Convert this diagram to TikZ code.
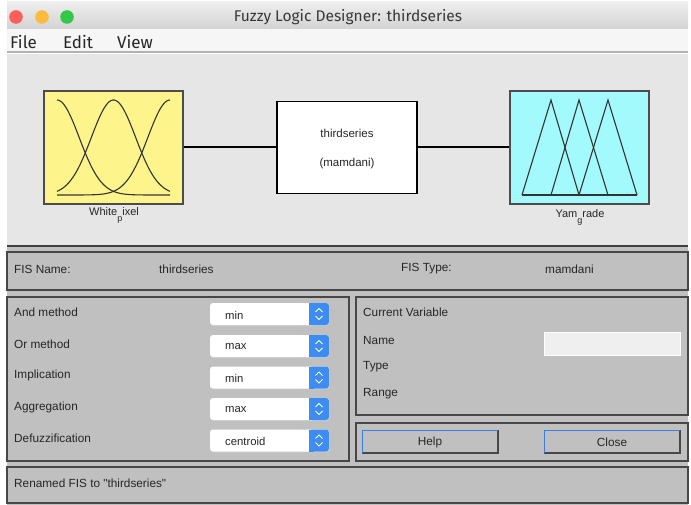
\documentclass[tikz,border=0pt]{standalone}
\usepackage{fontspec}
\setmainfont{Liberation Sans}[Ligatures=TeXOff]
\newfontfamily\uifont{Fira Sans}
\definecolor{tbtop}{HTML}{EEEEEE}
\definecolor{tbbot}{HTML}{D3D3D3}
\definecolor{menubg}{HTML}{F6F6F6}
\definecolor{diagbg}{HTML}{E6E6E6}
\definecolor{panelgray}{HTML}{C0C0C0}
\definecolor{inyellow}{HTML}{FEF48C}
\definecolor{outcyan}{HTML}{A2FAFC}
\definecolor{popblue}{HTML}{3C8CF2}
\definecolor{btnblue}{HTML}{3A7FE0}
\definecolor{fieldgray}{HTML}{EFEFEF}
\definecolor{lred}{HTML}{FC605C}
\definecolor{lyellow}{HTML}{FDBC40}
\definecolor{lgreen}{HTML}{34C84A}
\tikzset{
  panel/.style={draw=black!72, line width=1.2pt, fill=panelgray},
  ptext/.style={anchor=west, inner sep=0pt, font=\fontsize{11.8}{14}\selectfont, text=black!85},
  mfbox/.style={draw=black!70, line width=1.2pt},
  curve/.style={line width=1.1pt, black!80},
  wire/.style={line width=2pt, black},
  menutext/.style={anchor=west, inner sep=0pt, font=\uifont\fontsize{17}{20}\selectfont, text=black!85},
}
\begin{document}
\begin{tikzpicture}[x=1pt,y=-1pt]
\useasboundingbox (0,0) rectangle (691,505);
\fill[white] (0,0) rectangle (691,505);
% title bar
\shade[top color=tbtop, bottom color=tbbot] (7,2) rectangle (688,29);
\fill[lred] (16,17) circle (6.8);
\fill[lyellow] (42,17) circle (6.8);
\fill[lgreen] (67,17) circle (6.8);
\node[inner sep=0pt, font=\uifont\fontsize{15.5}{18}\selectfont, text=black!78] (title) at (348,17) {Fuzzy Logic Designer: thirdseries};
% menu bar
\fill[menubg] (7,29) rectangle (688,51);
\draw[black!30, line width=2pt] (7,52) -- (688,52);
\node[menutext] (mfile) at (10,42) {File};
\node[menutext] (medit) at (63,42) {Edit};
\node[menutext] (mview) at (117,42) {View};
% diagram area
\fill[diagbg] (7,54) rectangle (688,245);
\fill[panelgray] (7,247) rectangle (688,505);
\draw[black!75, line width=1.5pt] (7,246) -- (688,246);
% input box
\node[mfbox, fill=inyellow, minimum width=139pt, minimum height=113pt, inner sep=0pt] (in) at (113.5,147.5) {};
\draw[curve] plot[domain=57:170, samples=70, smooth] (\x, {195-95*exp(-((\x-57)^2)/980)});
\draw[curve] plot[domain=57:170, samples=70, smooth] (\x, {195-95*exp(-((\x-113.5)^2)/980)});
\draw[curve] plot[domain=57:170, samples=70, smooth] (\x, {195-95*exp(-((\x-170)^2)/980)});
\node[inner sep=0pt, font=\fontsize{11}{13}\selectfont, text=black!85] (inlbl) at (114,215) {White\raisebox{-6pt}{\fontsize{9}{10}\selectfont p}ixel};
% FIS box
\node[draw=black, line width=1.8pt, fill=white, minimum width=140pt, minimum height=92pt, inner sep=0pt] (fis) at (347,147.5) {};
\node[inner sep=0pt, font=\fontsize{11.5}{13}\selectfont, text=black!85] (fisname) at (347,133) {thirdseries};
\node[inner sep=0pt, font=\fontsize{11.5}{13}\selectfont, text=black!85] (fistype) at (347,164) {(mamdani)};
% output box
\node[mfbox, fill=outcyan, minimum width=139pt, minimum height=113pt, inner sep=0pt] (out) at (579.5,147.5) {};
\draw[curve] (522,195) -- (551,100) -- (579,195);
\draw[curve] (551,195) -- (579,100) -- (608,195);
\draw[curve] (579,195) -- (608,100) -- (637,195);
\draw[curve] (522,195) -- (637,195);
\node[inner sep=0pt, font=\fontsize{11}{13}\selectfont, text=black!85] (outlbl) at (580,217) {Yam\raisebox{-6pt}{\fontsize{9}{10}\selectfont g}rade};
% wires
\draw[wire] (in.east) -- (fis.west);
\draw[wire] (fis.east) -- (out.west);
% FIS name panel
\draw[panel] (7,252) rectangle (688,290);
\node[ptext] (fnl) at (14,269) {FIS Name:};
\node[ptext] (fnv) at (159,269) {thirdseries};
\node[ptext] (ftl) at (401,269) {FIS Type:};
\node[ptext] (ftv) at (545,269) {mamdani};
% left panel
\draw[panel] (7,297) rectangle (349,461);
\foreach \yy/\val/\lbl [count=\i] in {314/min/And method, 346/max/Or method, 377.5/min/Implication, 409/max/Aggregation, 440.5/centroid/Defuzzification}{
  \node[ptext] (lbl\i) at (14,\yy-2) {\lbl};
  \fill[black!22, rounded corners=3pt] (210,\yy-10) rectangle (330,\yy+12);
  \fill[white, rounded corners=3pt] (210,\yy-11) rectangle (329,\yy+11);
  \fill[popblue, rounded corners=3pt] (309,\yy-11) rectangle (329,\yy+11);
  \fill[popblue] (309,\yy-11) rectangle (314,\yy+11);
  \draw[white, line width=1pt] (315.5,\yy-2) -- (319,\yy-5.5) -- (322.5,\yy-2);
  \draw[white, line width=1pt] (315.5,\yy+2) -- (319,\yy+5.5) -- (322.5,\yy+2);
  \node[ptext, font=\fontsize{11.3}{13}\selectfont] (val\i) at (225,\yy+1) {\val};
}
% right panel
\draw[panel] (356,297) rectangle (688,415);
\node[ptext] (cv) at (363,312) {Current Variable};
\node[ptext] (nm) at (363,340) {Name};
\node[ptext] (ty) at (363,367) {Type};
\node[ptext] (rg) at (363,394) {Range};
\fill[fieldgray] (544,332) rectangle (680,355);
\draw[white, line width=0.8pt] (544,332) rectangle (680,355);
% buttons panel
\draw[panel] (356,423) rectangle (688,461);
\foreach \xa/\txt [count=\j] in {362/Help, 544/Close}{
  \draw[black!72, line width=1.6pt] (\xa,453) -- (\xa+136,453) -- (\xa+136,430);
  \draw[btnblue, line width=1pt] (\xa,453) -- (\xa,430) -- (\xa+136,430);
  \node[inner sep=0pt, font=\fontsize{11.8}{14}\selectfont, text=black!85] (btn\j) at (\xa+68,442) {\txt};
}
% status panel
\draw[panel] (7,467) rectangle (688,503);
\node[ptext] (status) at (14,483) {Renamed FIS to "thirdseries"};
\end{tikzpicture}
\end{document}
